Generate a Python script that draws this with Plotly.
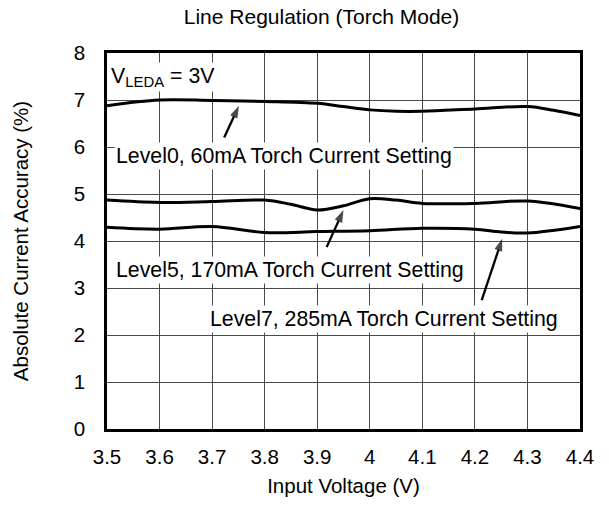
import plotly.graph_objects as go

# Data
x_l0 = [3.5, 3.6, 3.7, 3.8, 3.9, 3.95, 4.0, 4.05, 4.1, 4.2, 4.3, 4.35, 4.4]
y_l0 = [6.88, 7.00, 6.99, 6.97, 6.93, 6.86, 6.79, 6.76, 6.76, 6.81, 6.86, 6.78, 6.67]

x_l5 = [3.5, 3.6, 3.7, 3.8, 3.85, 3.9, 3.95, 4.0, 4.05, 4.1, 4.2, 4.3, 4.4]
y_l5 = [4.87, 4.82, 4.84, 4.87, 4.78, 4.66, 4.75, 4.90, 4.87, 4.80, 4.80, 4.85, 4.69]

x_l7 = [3.5, 3.6, 3.7, 3.8, 3.9, 4.0, 4.1, 4.2, 4.25, 4.3, 4.4]
y_l7 = [4.29, 4.25, 4.31, 4.18, 4.20, 4.22, 4.27, 4.25, 4.19, 4.17, 4.31]

x_ticks = [3.5, 3.6, 3.7, 3.8, 3.9, 4.0, 4.1, 4.2, 4.3, 4.4]
x_tick_text = ["3.5", "3.6", "3.7", "3.8", "3.9", "4", "4.1", "4.2", "4.3", "4.4"]
y_ticks = [0, 1, 2, 3, 4, 5, 6, 7, 8]

labels = [
    "Level0, 60mA Torch Current Setting",
    "Level5, 170mA Torch Current Setting",
    "Level7, 285mA Torch Current Setting",
]
label_pos = [(3.514, 5.80), (3.513, 3.39), (3.693, 2.35)]
# arrows: (tail_x, tail_y, head_x, head_y)
arrows = [
    (3.723, 6.20, 3.751, 6.88),
    (3.918, 3.87, 3.950, 4.66),
    (4.213, 2.74, 4.252, 4.05),
]

FONT = "Liberation Sans, Arial, sans-serif"

fig = go.Figure()
for xs, ys in [(x_l0, y_l0), (x_l5, y_l5), (x_l7, y_l7)]:
    fig.add_trace(go.Scatter(x=xs, y=ys, mode="lines",
                             line=dict(color="black", width=3, shape="spline", smoothing=1.0),
                             showlegend=False, hoverinfo="skip"))

annotations = []
for txt, (lx, ly) in zip(labels, label_pos):
    annotations.append(dict(x=lx, y=ly, xref="x", yref="y", text=txt, showarrow=False,
                            xanchor="left", yanchor="middle", bgcolor="white", borderpad=1,
                            font=dict(size=21.3, color="black", family=FONT)))
annotations.append(dict(x=3.504, y=7.49, xref="x", yref="y",
                        text="V<sub>LEDA</sub> = 3V", showarrow=False,
                        xanchor="left", yanchor="middle", bgcolor="white", borderpad=1,
                        font=dict(size=21.3, color="black", family=FONT)))

# arrows drawn after the label boxes (as traces, on top)
for (tx, ty, hx, hy) in arrows:
    fig.add_trace(go.Scatter(x=[tx, hx], y=[ty, hy], mode="lines+markers",
                             line=dict(color="black", width=2.3),
                             marker=dict(symbol="arrow", angleref="previous",
                                         size=[0, 13], color="black",
                                         line=dict(width=0)),
                             showlegend=False, hoverinfo="skip", cliponaxis=False))

fig.update_layout(
    width=609, height=507,
    margin=dict(l=107, r=29, t=53, b=76),
    paper_bgcolor="white", plot_bgcolor="white",
    font=dict(family=FONT, size=20.5, color="black"),
    title=dict(text="Line Regulation (Torch Mode)", x=0.4535, xref="paper",
               y=1 - 17 / 507, yref="container", xanchor="center", yanchor="middle",
               font=dict(size=21, color="black", family=FONT)),
    annotations=annotations,
)
fig.update_xaxes(range=[3.5, 4.4], tickvals=x_ticks, ticktext=x_tick_text,
                 showgrid=True, gridcolor="#4a4a4a", gridwidth=1,
                 showline=True, linecolor="black", linewidth=2.5, mirror=True,
                 ticks="", ticklabelstandoff=8, zeroline=False,
                 tickfont=dict(size=20.5),
                 title=dict(text="Input Voltage (V)", standoff=12, font=dict(size=20.5)))
fig.update_yaxes(range=[0, 8], tickvals=y_ticks,
                 showgrid=True, gridcolor="#4a4a4a", gridwidth=1,
                 showline=True, linecolor="black", linewidth=2.5, mirror=True,
                 ticks="", ticklabelstandoff=15, zeroline=False,
                 tickfont=dict(size=20.5),
                 title=dict(text="Absolute Current Accuracy (%)", standoff=40, font=dict(size=20.5)))

# remove the browser's default 8px body margin so the figure fills the window exactly
fig.write_html("out.html", config={"displayModeBar": False},
               post_script="document.body.style.margin='0';")
